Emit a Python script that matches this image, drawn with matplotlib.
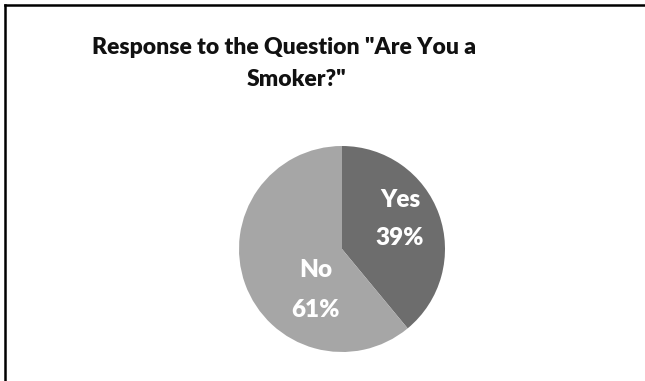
import matplotlib
matplotlib.use("Agg")
import matplotlib.pyplot as plt
from matplotlib.lines import Line2D

labels = ["Yes", "No"]
values = [39, 61]
colors = ["#6d6d6d", "#a6a6a6"]
title_lines = ['Response to the Question "Are You a', 'Smoker?"']

W, H = 645, 381
fig = plt.figure(figsize=(W / 100, H / 100), dpi=100)
fig.patch.set_facecolor("white")

# border (top and left visible)
fig.add_artist(Line2D([5 / W, 5 / W], [0, 1 - 5 / H], transform=fig.transFigure, color="black", lw=1.8))
fig.add_artist(Line2D([5 / W, 1], [1 - 5 / H, 1 - 5 / H], transform=fig.transFigure, color="black", lw=1.8))

for (x, y), line in zip([(284, 47), (297, 80)], title_lines):
    fig.text(x / W, 1 - y / H, line, ha="center", va="center", fontsize=16.5,
             fontweight="heavy", family="Lato", color="#111111")

cx, cy, r = 342, 249, 103
ax = fig.add_axes([(cx - r) / W, 1 - (cy + r) / H, 2 * r / W, 2 * r / H])
wedges, texts = ax.pie(values, colors=colors, startangle=90, counterclock=False,
                       wedgeprops=dict(linewidth=0))
ax.set_aspect("equal")
ax.set_xlim(-1, 1)
ax.set_ylim(-1, 1)

label_pos = {"Yes": (400, 200, 238), "No": (316, 270, 310)}
for lab, v in zip(labels, values):
    x, y1, y2 = label_pos[lab]
    fig.text(x / W, 1 - y1 / H, lab, ha="center", va="center", fontsize=17.5,
             fontweight="heavy", family="Lato", color="white")
    fig.text(x / W, 1 - y2 / H, f"{v}%", ha="center", va="center", fontsize=17.5,
             fontweight="heavy", family="Lato", color="white")

fig.savefig("out.png", dpi=100, facecolor="white")
